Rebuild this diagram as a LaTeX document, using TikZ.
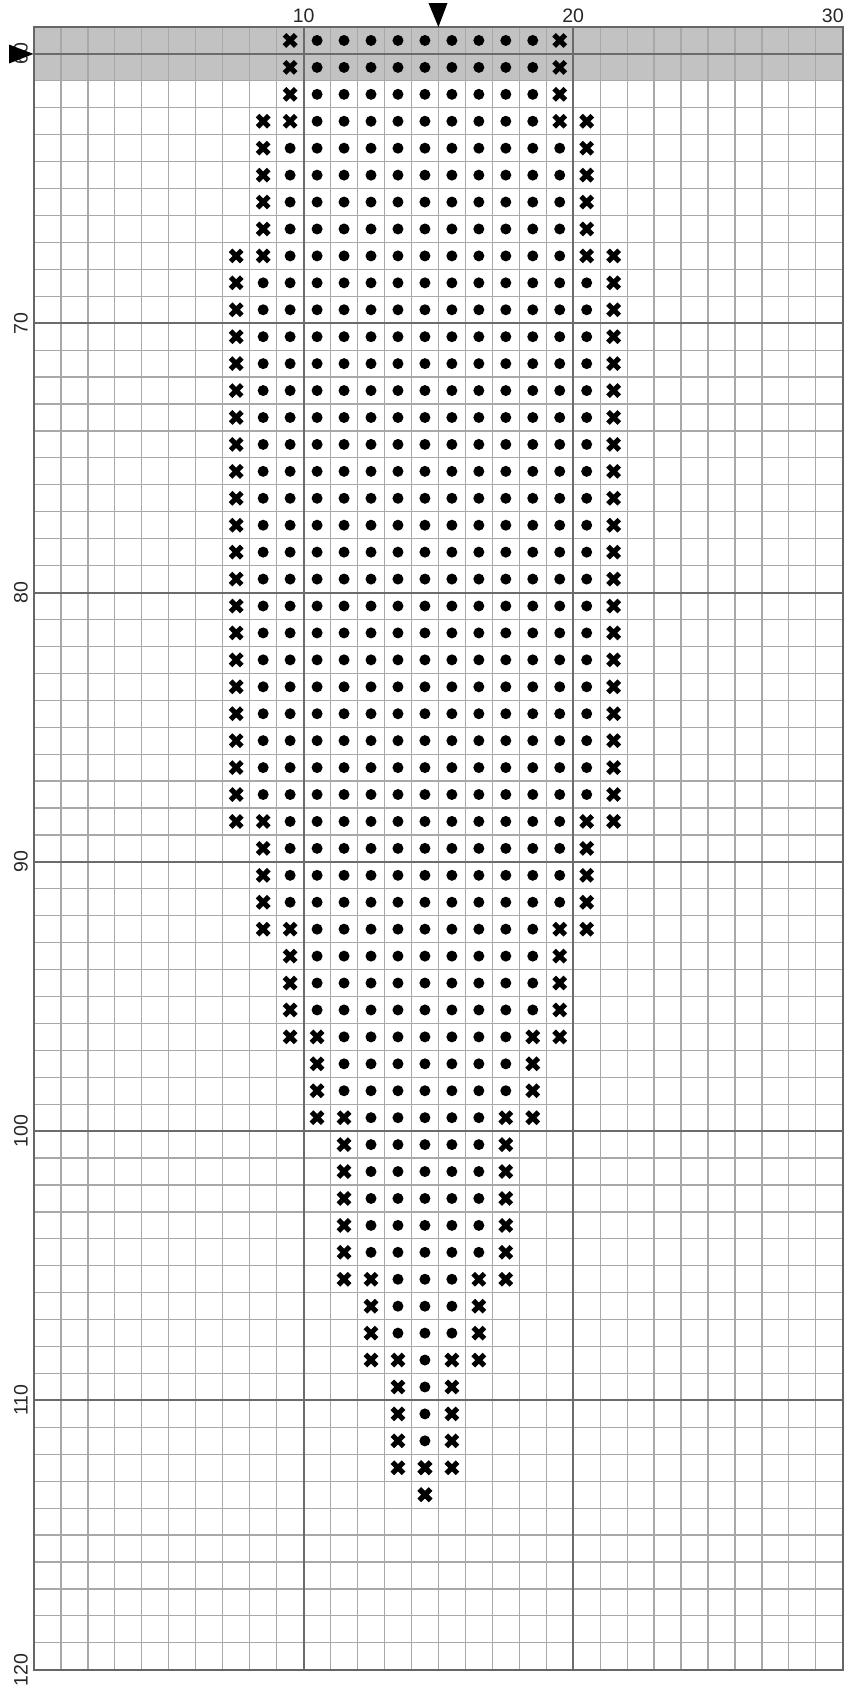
\documentclass[tikz,border=0pt]{standalone}
\usepackage{fontspec}
\setmainfont{Liberation Sans}
\begin{document}
\begin{tikzpicture}[x=1pt,y=-1pt,
  minor/.style={draw=black!34,line width=1.2pt},
  major/.style={draw=black!58,line width=2pt},
  border/.style={draw=black!60,line width=2.4pt},
  shade/.style={fill=black!24},
  xmarkline/.style={line width=5.1pt,draw=black},
  dotmark/.style={fill=black},
  lab/.style={font=\fontsize{19.5}{20}\selectfont,inner sep=0pt,text=black!85},
  pointer/.style={fill=black},
  xs/.pic={\draw[xmarkline] (-5.6,-5.6) -- (5.6,5.6) (-5.6,5.6) -- (5.6,-5.6);}]
\useasboundingbox (0,0) rectangle (855,1690);
\def\XO{34}\def\YO{27}\def\CW{26.96}\def\CH{26.93}
% shaded rows
\fill[shade] (\XO,\YO) rectangle ({\XO+30*\CW},{\YO+2*\CH});
% minor grid
\foreach \i in {0,...,30} \draw[minor] ({\XO+\i*\CW},\YO) -- ({\XO+\i*\CW},{\YO+61*\CH});
\foreach \j in {0,...,61} \draw[minor] (\XO,{\YO+\j*\CH}) -- ({\XO+30*\CW},{\YO+\j*\CH});
% major grid
\foreach \i in {10,20} \draw[major] ({\XO+\i*\CW},\YO) -- ({\XO+\i*\CW},{\YO+61*\CH});
\foreach \j in {1,11,21,31,41,51} \draw[major] (\XO,{\YO+\j*\CH}) -- ({\XO+30*\CW},{\YO+\j*\CH});
\draw[border] (\XO,\YO) rectangle ({\XO+30*\CW},{\YO+61*\CH});
% symbols
\foreach \ra/\rb/\d/\s in {59/61/4/0, 62/62/4/1, 63/66/5/0, 67/67/5/1, 68/87/6/0, 88/88/5/1, 89/91/5/0, 92/92/4/1, 93/95/4/0, 96/96/3/1, 97/98/3/0, 99/99/2/1, 100/104/2/0, 105/105/1/1, 106/107/1/0, 108/108/0/1, 109/111/0/0, 112/112/-1/1, 113/113/-1/0}{
  \foreach \r in {\ra,...,\rb}{
    \pgfmathsetmacro\yy{\YO+(\r-59+0.5)*\CH}
    \ifnum\d>-1
      \pgfmathtruncatemacro\ca{14-\d}
      \pgfmathtruncatemacro\cb{14+\d}
      \foreach \c in {\ca,...,\cb} \fill[dotmark] ({\XO+(\c+0.5)*\CW},\yy) circle[radius=5.5];
    \fi
    \pgfmathtruncatemacro\xa{14-\d-1}
    \pgfmathtruncatemacro\xb{14+\d+1}
    \pic at ({\XO+(\xa+0.5)*\CW},\yy) {xs};
    \pic at ({\XO+(\xb+0.5)*\CW},\yy) {xs};
    \ifnum\s=1
      \pgfmathtruncatemacro\xc{14-\d-2}
      \pgfmathtruncatemacro\xd{14+\d+2}
      \pic at ({\XO+(\xc+0.5)*\CW},\yy) {xs};
      \pic at ({\XO+(\xd+0.5)*\CW},\yy) {xs};
    \fi
  }
}
% top labels
\node[lab,anchor=base] (t10) at ({\XO+10*\CW},22) {10};
\node[lab,anchor=base] (t20) at ({\XO+20*\CW},22) {20};
\node[lab,anchor=base east] (t30) at ({\XO+30*\CW+1},22) {30};
% left labels
\foreach \v/\j in {60/1,70/11,80/21,90/31,100/41,110/51,120/61}
  \node[lab,rotate=90,anchor=base] (l\v) at (27.5,{\YO+\j*\CH}) {\v};
% centre pointers
\fill[pointer] (428.5,3) -- (447.5,3) -- ({\XO+15*\CW},\YO) -- cycle;
\fill[pointer] (9,44.5) -- (9,63.5) -- (33.5,{\YO+\CH}) -- cycle;
\end{tikzpicture}
\end{document}
